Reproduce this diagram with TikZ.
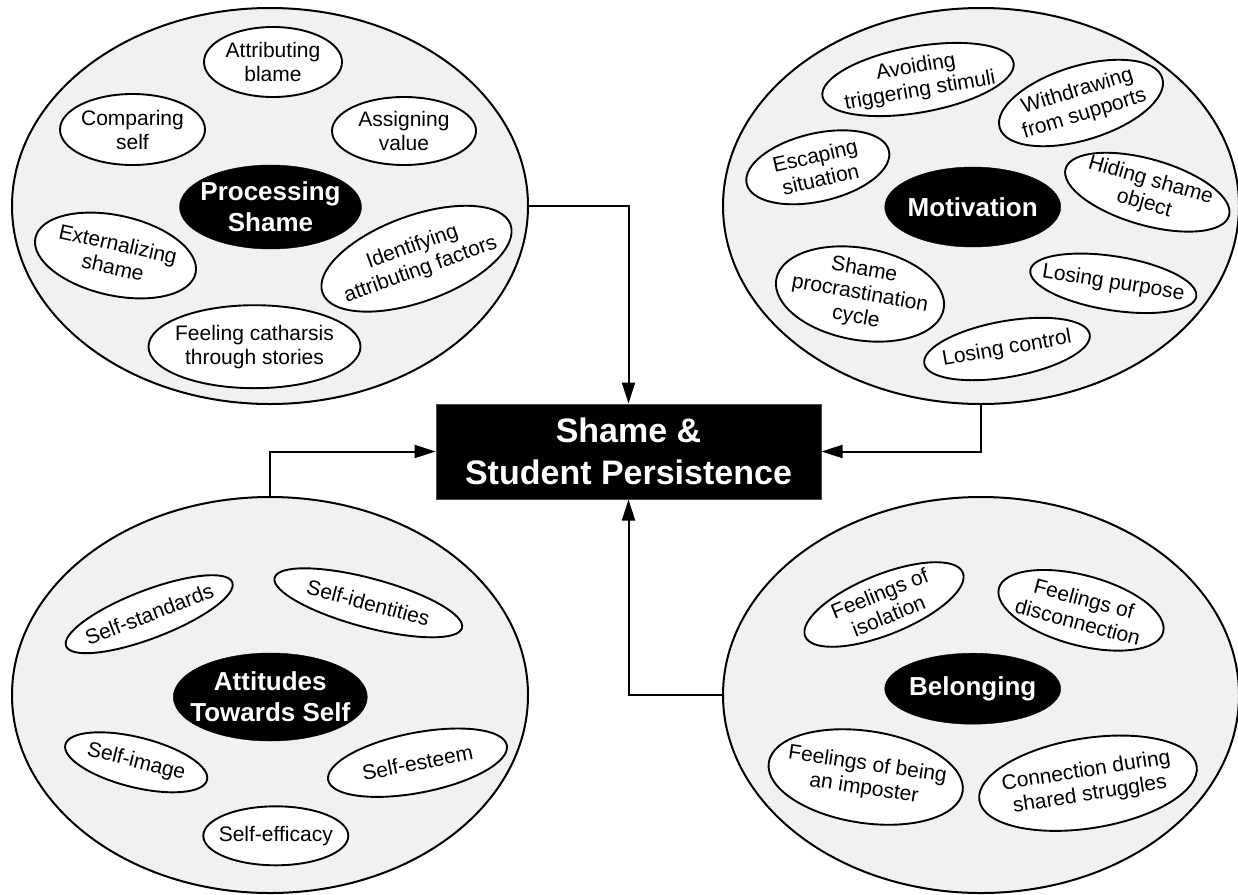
\documentclass[tikz,border=0pt]{standalone}
\usepackage{fontspec}
\setmainfont{Liberation Sans}
\usetikzlibrary{shapes.geometric,arrows.meta}

% a white bubble with its rotated caption: name, x, y, width, height, angle, text
\newcommand\subbubble[7]{%
  \node[bubble, minimum width=#4pt, minimum height=#5pt, rotate=#6] (#1) at (#2,#3) {};
  \node[bubbletext, rotate=#6] (#1-t) at (#1.center) {#7};
}

\tikzset{
  group/.style={draw=black, line width=2pt, ellipse, fill=groupgray,
    minimum width=516pt, minimum height=396pt, inner sep=0pt},
  bubble/.style={draw=black, line width=1.9pt, ellipse, fill=white, inner sep=0pt},
  bubbletext/.style={align=center, inner sep=0pt, text=black,
    font={\fontsize{21}{24}\selectfont}},
  theme/.style={ellipse, fill=black, draw=black, inner sep=0pt},
  themetext/.style={align=center, inner sep=0pt, text=white,
    font={\fontsize{26}{31}\selectfont\bfseries}},
  core/.style={rectangle, fill=black, draw=black!70, line width=1pt,
    minimum width=385pt, minimum height=95pt, inner sep=0pt, align=center,
    text=white, font={\fontsize{34}{42.5}\selectfont\bfseries}},
  link/.style={line width=2pt, -{Triangle[length=21pt, width=13pt]}},
}
\definecolor{groupgray}{HTML}{F1F1F1}

\begin{document}
\begin{tikzpicture}[x=1pt, y=-1pt]
\useasboundingbox (0,0) rectangle (1238,894);

% ---- four groups ----
\node[group] (proc)  at (270,206) {};
\node[group] (motiv) at (981,206) {};
\node[group] (att)   at (270,695) {};
\node[group] (bel)   at (981,695) {};

% ---- central box ----
\node[core] (box) at (628.5,451.5) {Shame \&\\Student Persistence};

% ---- connectors ----
\draw[link] (proc.east) -| (box.north);
\draw[link] (motiv.south) |- (box.east);
\draw[link] (att.north) |- (box.west);
\draw[link] (bel.west) -| (box.south);

% ---- Processing Shame ----
\node[theme, minimum width=182pt, minimum height=84pt] (procT) at (270.5,207) {};
\node[themetext] (procT-t) at (procT.center) {Processing\\Shame};
\subbubble{blame}{273}{62}{138}{70}{0}{Attributing\\blame}
\subbubble{compare}{132.5}{129.5}{145}{71}{0}{Comparing\\self}
\subbubble{value}{404}{131}{144}{68}{0}{Assigning\\value}
\subbubble{extern}{115.5}{255.5}{164}{80}{-12.5}{Externalizing\\shame}
\subbubble{ident}{416.5}{258.7}{200}{86}{20}{Identifying\\attributing factors}
\subbubble{cathar}{254.5}{346.7}{212}{83}{0}{Feeling catharsis\\through stories}

% ---- Motivation ----
\node[theme, minimum width=176pt, minimum height=80pt] (motivT) at (972.7,207) {};
\node[themetext] (motivT-t) at (motivT.center) {Motivation};
\subbubble{avoid}{918}{79.5}{194}{66}{10}{Avoiding\\triggering stimuli}
\subbubble{withdraw}{1081}{103}{170}{74}{17}{Withdrawing\\from supports}
\subbubble{escape}{817.8}{167.3}{146}{68}{13}{Escaping\\situation}
\subbubble{hide}{1147.3}{192.2}{170}{66}{-16}{Hiding shame\\object}
\subbubble{procr}{860}{294}{170}{92}{-10}{Shame\\procrastination\\cycle}
\subbubble{purpose}{1113.3}{283.3}{168}{54}{-9}{Losing purpose}
\subbubble{control}{1007}{349}{168}{56}{10}{Losing control}

% ---- Attitudes Towards Self ----
\node[theme, minimum width=194pt, minimum height=88pt] (attT) at (270.3,697) {};
\node[themetext] (attT-t) at (attT.center) {Attitudes\\Towards Self};
\subbubble{standards}{149.2}{614.2}{178}{48}{21}{Self-standards}
\subbubble{identities}{368.3}{602.8}{194}{49}{-15}{Self-identities}
\subbubble{image}{136.2}{762.3}{146}{50}{-14}{Self-image}
\subbubble{esteem}{417.5}{762.7}{182}{60}{11}{Self-esteem}
\subbubble{efficacy}{275.8}{835.8}{145}{59}{0}{Self-efficacy}

% ---- Belonging ----
\node[theme, minimum width=176pt, minimum height=71pt] (belT) at (972.7,688.7) {};
\node[themetext] (belT-t) at (belT.center) {Belonging};
\subbubble{isol}{884}{604.5}{170}{60}{22}{Feelings of\\isolation}
\subbubble{disc}{1081}{610.3}{170}{70}{-15}{Feelings of\\disconnection}
\subbubble{impost}{865.7}{777}{196}{92}{-8.5}{Feelings of being\\an imposter}
\subbubble{shared}{1088}{783.2}{220}{90}{9}{Connection during\\shared struggles}
\end{tikzpicture}
\end{document}
